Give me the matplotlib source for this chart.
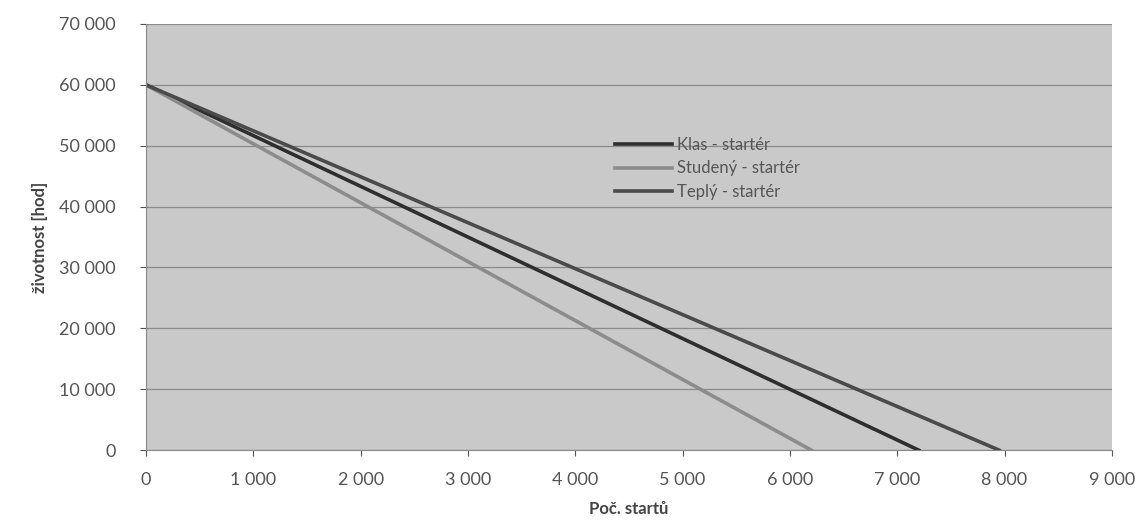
import matplotlib
matplotlib.use("Agg")
import matplotlib.pyplot as plt
from matplotlib.ticker import FuncFormatter

plt.rcParams['font.family'] = ['Lato', 'DejaVu Sans']

# data
series_names = ['Klas - startér', 'Studený - startér', 'Teplý - startér']
starts_klas = [0, 7200]
hours_klas = [60000, 0]
starts_cold = [0, 6200]
hours_cold = [60000, 0]
starts_warm = [0, 7950]
hours_warm = [60000, 0]

colors = ['#2e2e2e', '#8c8c8c', '#4a4a4a']

fig = plt.figure(figsize=(11.35, 5.21), dpi=100)
ax = fig.add_axes([0.1286, 0.136, 0.851, 0.818])
ax.set_facecolor('#c9c9c9')

ax.plot(starts_klas, hours_klas, color=colors[0], lw=2.6, label=series_names[0])
ax.plot(starts_cold, hours_cold, color=colors[1], lw=2.6, label=series_names[1])
ax.plot(starts_warm, hours_warm, color=colors[2], lw=2.6, label=series_names[2])

ax.set_xlim(0, 9000)
ax.set_ylim(0, 70000)
ax.set_xticks(range(0, 9001, 1000))
ax.set_yticks(range(0, 70001, 10000))
fmt = FuncFormatter(lambda v, p: f"{int(v):,}".replace(',', ' '))
ax.xaxis.set_major_formatter(fmt)
ax.yaxis.set_major_formatter(fmt)
ax.tick_params(labelsize=13, colors='#555555', length=4, width=0.8)
ax.tick_params(axis='x', pad=12)
ax.tick_params(axis='y', pad=18)

ax.grid(axis='y', color='#8a8a8a', lw=0.9)
ax.set_axisbelow(True)
for s in ['top', 'right']:
    ax.spines[s].set_visible(False)
ax.spines['left'].set_color('#888888')
ax.spines['bottom'].set_color('#888888')

ax.set_xlabel('Poč. startů', fontsize=12, fontweight='bold', color='#444444', labelpad=9)
ax.set_ylabel('životnost [hod]', fontsize=12, fontweight='bold', color='#444444', labelpad=8)

leg = ax.legend(loc='upper left', bbox_to_anchor=(0.47, 0.77), frameon=False,
                fontsize=12, handlelength=3.4, handletextpad=0.3, labelspacing=0.45)
for t in leg.get_texts():
    t.set_color('#555555')

fig.savefig('out.png', dpi=100)
